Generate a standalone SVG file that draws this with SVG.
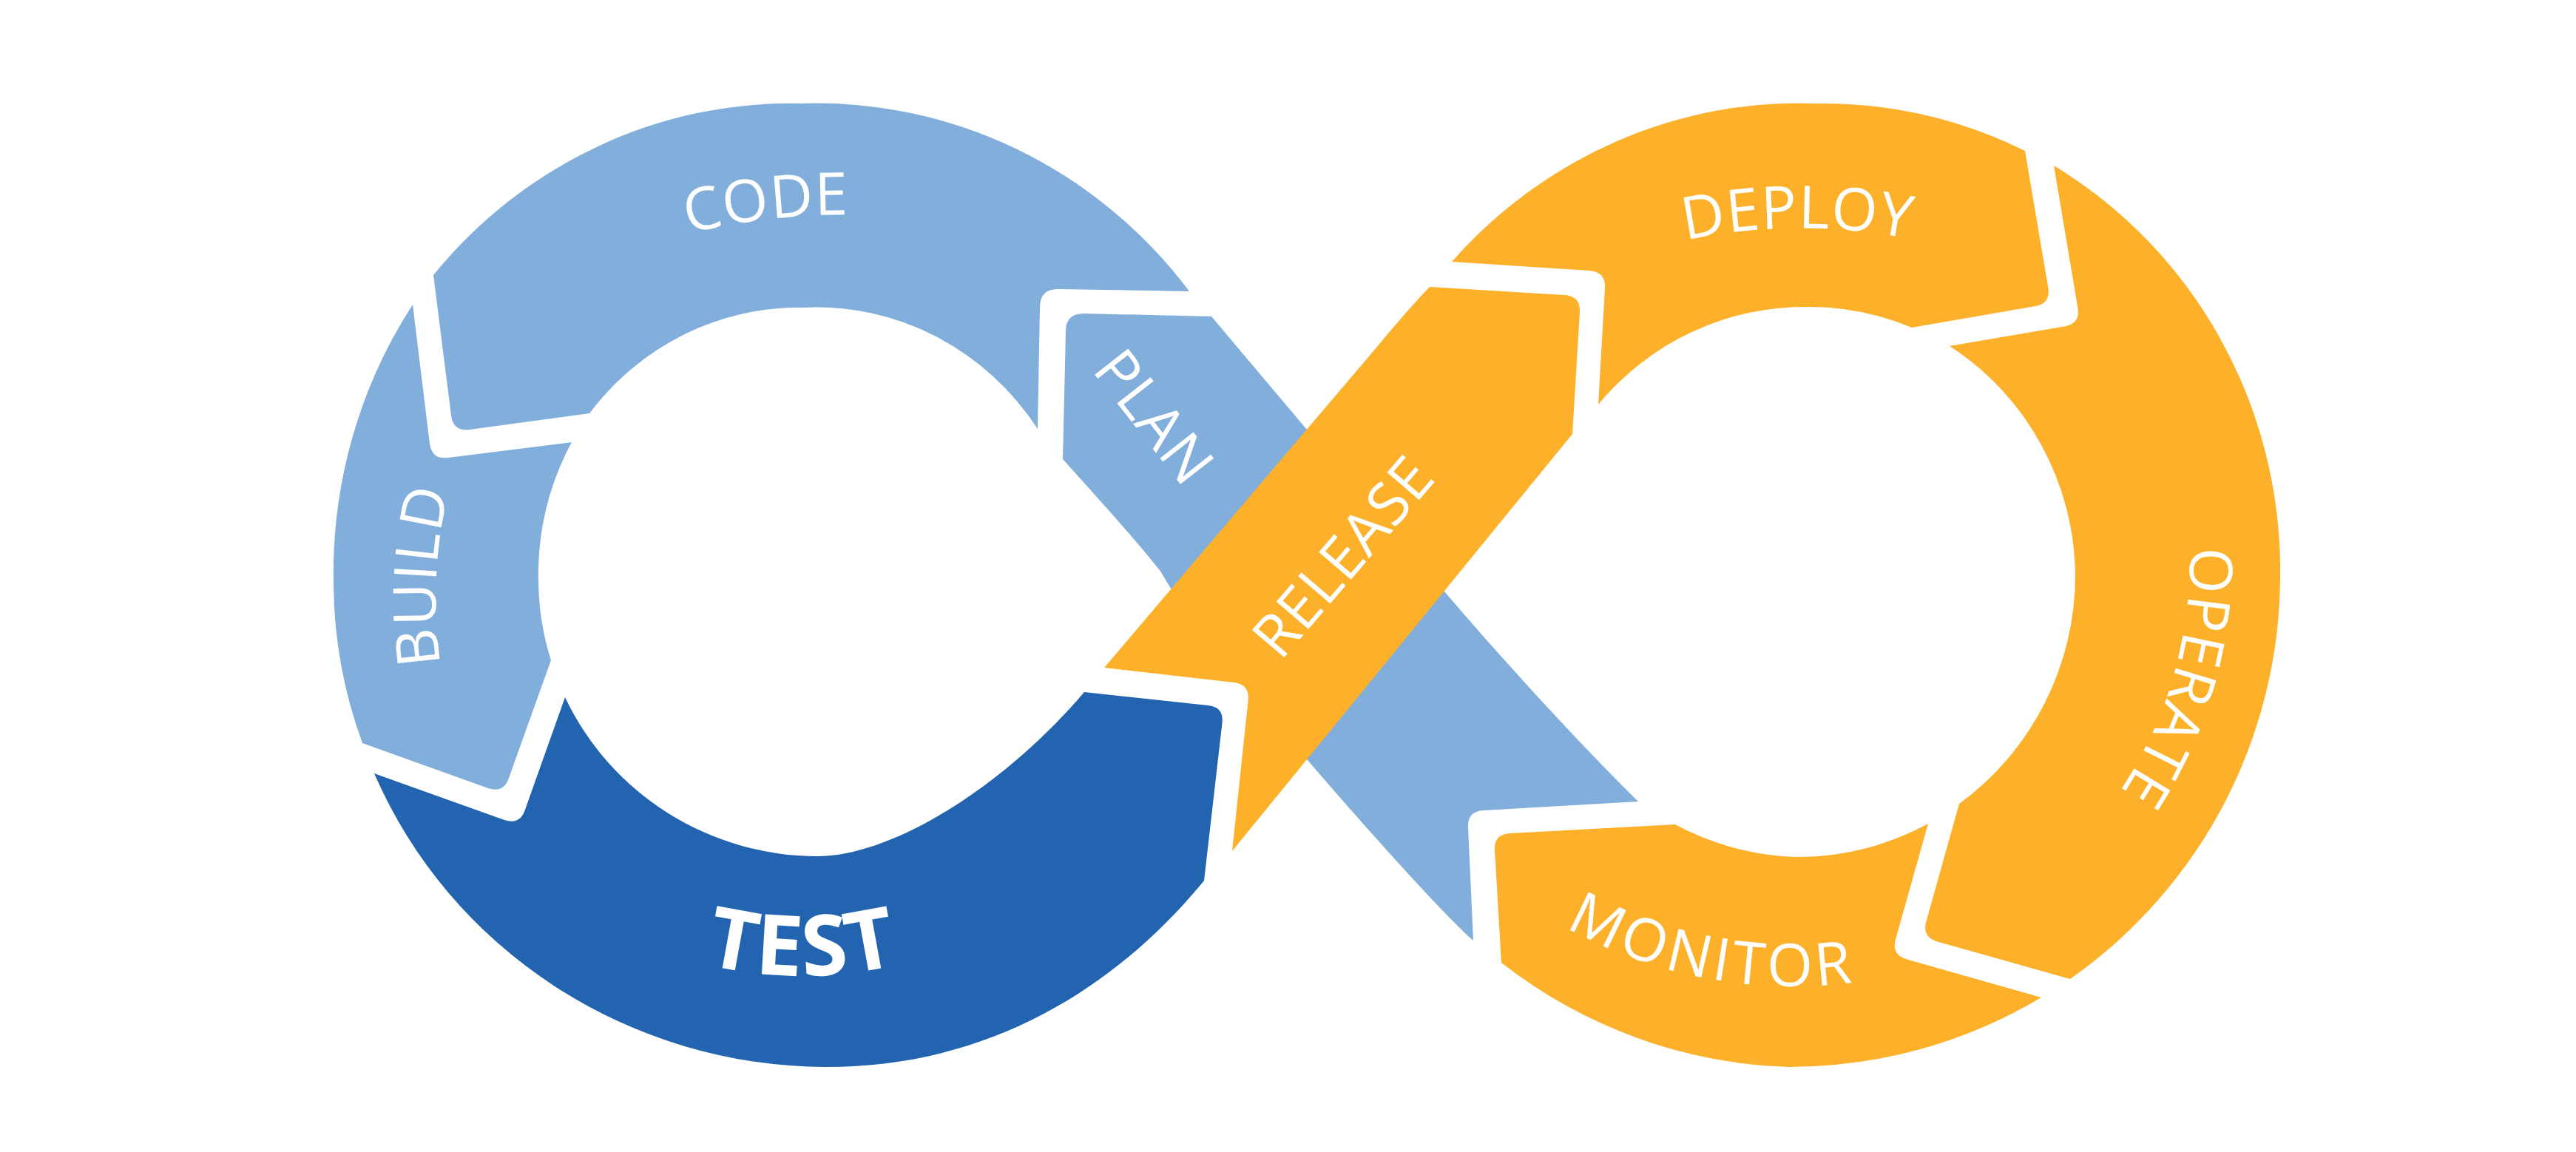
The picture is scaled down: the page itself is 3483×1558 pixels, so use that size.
<svg xmlns="http://www.w3.org/2000/svg" width="3483" height="1558" viewBox="0 0 3483 1558">
<style>
.light{fill:#82AEDC}
.dark{fill:#2264AF}
.orange{fill:#FDB12A}
.label{font-family:'Open Sans','Liberation Sans',sans-serif;fill:#FFFFFF;font-size:80px;letter-spacing:1px}
.big{font-size:114px;font-weight:700;letter-spacing:2px}
.wide{letter-spacing:5px}
</style>
<defs>
<path id="p-code" d="M 488 572.8 A 900 900 0 0 1 1637.2 438.6"/>
<path id="p-build" d="M 710.7 1170.9 A 597.7 597.7 0 0 1 748.3 403.4"/>
<path id="p-test" d="M 733.4 1192.5 A 549 549 0 0 0 1436.6 1192.5"/>
<path id="p-deploy" d="M 1948.4 487.7 A 751.6 751.6 0 0 1 2914.6 480.9"/>
<path id="p-operate" d="M 2911.8 524.6 A 569 569 0 0 1 2710.2 1227.7"/>
<path id="p-monitor" d="M 1937.9 1103.5 A 628 628 0 0 0 2731.1 1253.6"/>
</defs>
<rect width="3483" height="1558" fill="#FFFFFF"/>
<g id="connectors"/>
<g id="node-code">
<path class="light" d="M 586 372 A 631 652 0 0 1 1082 140 A 636 652 0 0 1 1608 394 L 1432 391 Q 1406 390 1406 416 L 1403 580 A 360 370 0 0 0 1086 416 A 358 370 0 0 0 797 559 L 635 581 Q 613 584 610 562 Z"/>
<text class="label"><textPath href="#p-code" startOffset="50%" text-anchor="middle">CODE</textPath></text>
</g>
<g id="node-build">
<path class="light" d="M 558 412 L 581 600 Q 584 622 606 619 L 773 598 A 362 372 0 0 0 728 786 A 377 372 0 0 0 745 893 L 688 1052 Q 681 1073 660 1066 L 490 1005 A 666 651 0 0 1 451 792 A 631 652 0 0 1 558 412 Z"/>
<text class="label"><textPath href="#p-build" startOffset="50%" text-anchor="middle">BUILD</textPath></text>
</g>
<g id="node-test">
<path class="dark" d="M 506 1046 L 682 1109 Q 703 1116 710 1095 L 764 943 A 377 372 0 0 0 1105 1158 C 1205 1158 1356 1065.5 1466 936 L 1633 954 Q 1655 956 1652.5 978 L 1628 1191 C 1533 1307 1367 1443 1117 1443 A 666 651 0 0 1 506 1046 Z"/>
<text class="label big"><textPath href="#p-test" startOffset="50%" text-anchor="middle">TEST</textPath></text>
</g>
<g id="node-plan">
<path class="light" d="M 1437 621 L 1441 448 Q 1441 424 1465 424 L 1638 428 L 1767 581 L 1953 800 C 2030 890 2130 1000 2215 1084 L 2006 1096 Q 1984 1097 1985 1119 L 1992 1272 C 1940 1225 1830 1100 1767 1027 L 1583 796 L 1570 774 C 1540 735 1490 680 1437 621 Z"/>
<text class="label" transform="translate(1538.4 581.2) rotate(52)" text-anchor="middle">PLAN</text>
</g>
<g id="node-release">
<path class="orange" d="M 1493 903 L 1668 923 Q 1690 925.5 1687.6 947.4 L 1666 1151 L 2126 587 L 2136 422 Q 2137 400 2115 399 L 1933 388 C 1905 417 1878 450 1850 483 Z"/>
<text class="label" transform="translate(1837.3 771.2) rotate(-49.4)" text-anchor="middle">RELEASE</text>
</g>
<g id="node-deploy">
<path class="orange" d="M 1963 354 L 2149 366 Q 2171 367.5 2170 389.5 L 2161 547 A 366 372 0 0 1 2446 415 A 366 372 0 0 1 2585 443 L 2751 414.3 Q 2773 410.5 2769.3 388.8 L 2738 204 A 628 637 0 0 0 2455 140 A 633 652 0 0 0 1963 354 Z"/>
<text class="label"><textPath href="#p-deploy" startOffset="50%" text-anchor="middle">DEPLOY</textPath></text>
</g>
<g id="node-operate">
<path class="orange" d="M 2777 224 L 2809.3 416 Q 2813 437.7 2791 441.4 L 2636 468 A 366 372 0 0 1 2806 777 A 379 382 0 0 1 2649 1087 L 2604.4 1246.2 Q 2598.5 1267.4 2619.7 1273.4 L 2799 1324 A 665 666 0 0 0 3083 777 A 628 637 0 0 0 2777 224 Z"/>
<text class="label"><textPath href="#p-operate" startOffset="50%" text-anchor="middle">OPERATE</textPath></text>
</g>
<g id="node-monitor">
<path class="orange" d="M 2265 1115 L 2041.6 1127 Q 2019.6 1128.2 2021 1150 L 2030 1302 A 665 666 0 0 0 2418 1443 A 665 666 0 0 0 2760 1349 L 2578.4 1297.5 Q 2557.2 1291.5 2563.1 1270.3 L 2607 1114 A 379 382 0 0 1 2427 1159 A 379 382 0 0 1 2265 1115 Z"/>
<text class="label wide"><textPath href="#p-monitor" startOffset="50%" text-anchor="middle">MONITOR</textPath></text>
</g>
</svg>
